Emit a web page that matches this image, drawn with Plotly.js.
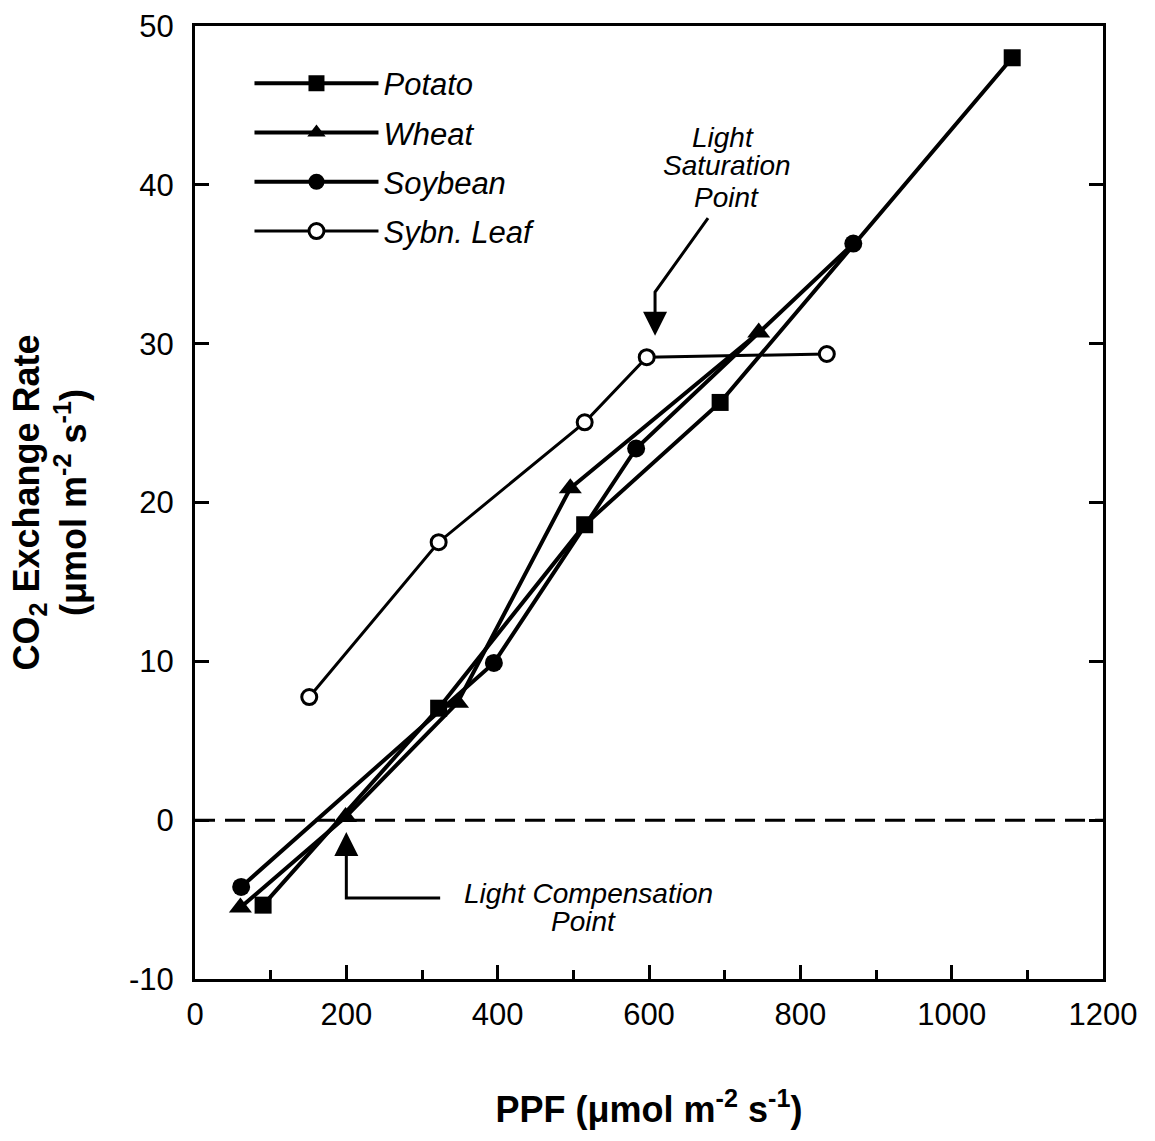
<!DOCTYPE html>
<html><head><meta charset="utf-8">
<script src="https://cdn.plot.ly/plotly-3.0.1.min.js"></script>
<style>body{margin:0;background:#fff}#chart{width:1155px;height:1141px}</style>
</head><body><div id="chart"></div>
<script>
const potatoX = [90, 322, 515, 694, 1080];
const potatoY = [-5.35, 7.05, 18.6, 26.3, 48.0];
const wheatX = [60, 199, 347, 496, 745];
const wheatY = [-5.5, 0.2, 7.4, 20.9, 30.7];
const soyX = [61, 395, 583, 870];
const soyY = [-4.2, 9.9, 23.4, 36.3];
const leafX = [151, 322, 515, 597, 835];
const leafY = [7.75, 17.5, 25.05, 29.15, 29.35];
const names = ['Potato', 'Wheat', 'Soybean', 'Sybn. Leaf'];
const xTicks = [0, 200, 400, 600, 800, 1000, 1200];
const yTicks = [-10, 0, 10, 20, 30, 40, 50];
const yTickText = ['-10', '0', '10', '20', '30', '40', '50'];

const font = 'Liberation Sans, Arial, Helvetica, sans-serif';
const mk = (x, y, name, sym, size, lw, mline, fill, grp) => ({
  x, y, name, type: 'scatter', mode: 'lines+markers', legendgroup: grp,
  line: {color: '#000', width: lw},
  marker: {symbol: sym, size: size, color: fill, line: {color: '#000', width: mline}}
});
const traces = [
  mk(potatoX, potatoY, names[0], 'square', 17, 4, 0, '#000', 'a'),
  mk(wheatX, wheatY, names[1], 'triangle-up', 20, 4, 0, '#000', 'b'),
  mk(soyX, soyY, names[2], 'circle', 18, 4, 0, '#000', 'c'),
  mk(leafX, leafY, names[3], 'circle', 15, 3, 3, '#fff', 'd')
];

const annFont = {family: font, size: 28, color: '#000'};
const txt = (x, y, t) => ({x, y, xref: 'x', yref: 'y', text: '<i>' + t + '</i>', showarrow: false,
  font: annFont, xanchor: 'center', yanchor: 'middle'});
const arrow = (x, y, ax, ay) => ({x, y, ax, ay, xref: 'x', yref: 'y', axref: 'x', ayref: 'y',
  showarrow: true, arrowhead: 2, arrowsize: 1.6, arrowwidth: 3, arrowcolor: '#000', text: '', standoff: 0});

const layout = {
  width: 1155, height: 1141,
  margin: {l: 195, r: 52, t: 26, b: 162},
  paper_bgcolor: '#fff', plot_bgcolor: '#fff',
  showlegend: true,
  legend: {x: 0.06, y: 0.968, xanchor: 'left', yanchor: 'top', bgcolor: 'rgba(0,0,0,0)',
           font: {family: font, size: 31, color: '#000', style: 'italic'}, itemwidth: 124, tracegroupgap: 6},
  xaxis: {range: [0, 1200], tickvals: xTicks, ticks: 'inside', ticklen: 14, tickwidth: 3, tickcolor: '#000',
          showline: true, linewidth: 3, linecolor: '#000', mirror: true, showgrid: false, zeroline: false,
          tickfont: {family: font, size: 31, color: '#000'}, ticklabelstandoff: 6,
          minor: {dtick: 100, ticks: 'inside', ticklen: 9, tickwidth: 3, tickcolor: '#000', showgrid: false},
          title: {text: '<b>PPF (μmol m<sup>-2</sup> s<sup>-1</sup>)</b>', standoff: 66,
                  font: {family: font, size: 36, color: '#000'}}},
  yaxis: {range: [-10, 50], tickvals: yTicks, ticktext: yTickText, ticks: 'inside', ticklen: 14, tickwidth: 3, tickcolor: '#000',
          showline: true, linewidth: 3, linecolor: '#000', mirror: 'ticks', showgrid: false, zeroline: false,
          tickfont: {family: font, size: 31, color: '#000'}, ticklabelstandoff: 12,
          title: {text: '<b>CO<sub>2</sub> Exchange Rate<br>(μmol m<sup>-2</sup> s<sup>-1</sup>)</b>', standoff: 32,
                  font: {family: font, size: 36, color: '#000'}}},
  shapes: [
    {type: 'line', xref: 'paper', yref: 'y', x0: 0, x1: 1, y0: 0, y1: 0,
     line: {color: '#000', width: 3, dash: '20px,10px'}},
    {type: 'path', xref: 'x', yref: 'y', path: 'M 678 37.9 L 608 33.25 L 608 31.6', line: {color: '#000', width: 3}},
    {type: 'path', xref: 'x', yref: 'y', path: 'M 200 -1.6 L 200 -4.9 L 324 -4.9', line: {color: '#000', width: 3}}
  ],
  annotations: [
    arrow(608, 30.5, 608, 32.0),
    arrow(200, -0.75, 200, -2.0),
    txt(698, 42.95, 'Light'),
    txt(703, 41.2, 'Saturation'),
    txt(703, 39.2, 'Point'),
    txt(520, -4.6, 'Light Compensation'),
    txt(513, -6.4, 'Point')
  ]
};
Plotly.newPlot('chart', traces, layout, {displayModeBar: false, staticPlot: true});
</script></body></html>
